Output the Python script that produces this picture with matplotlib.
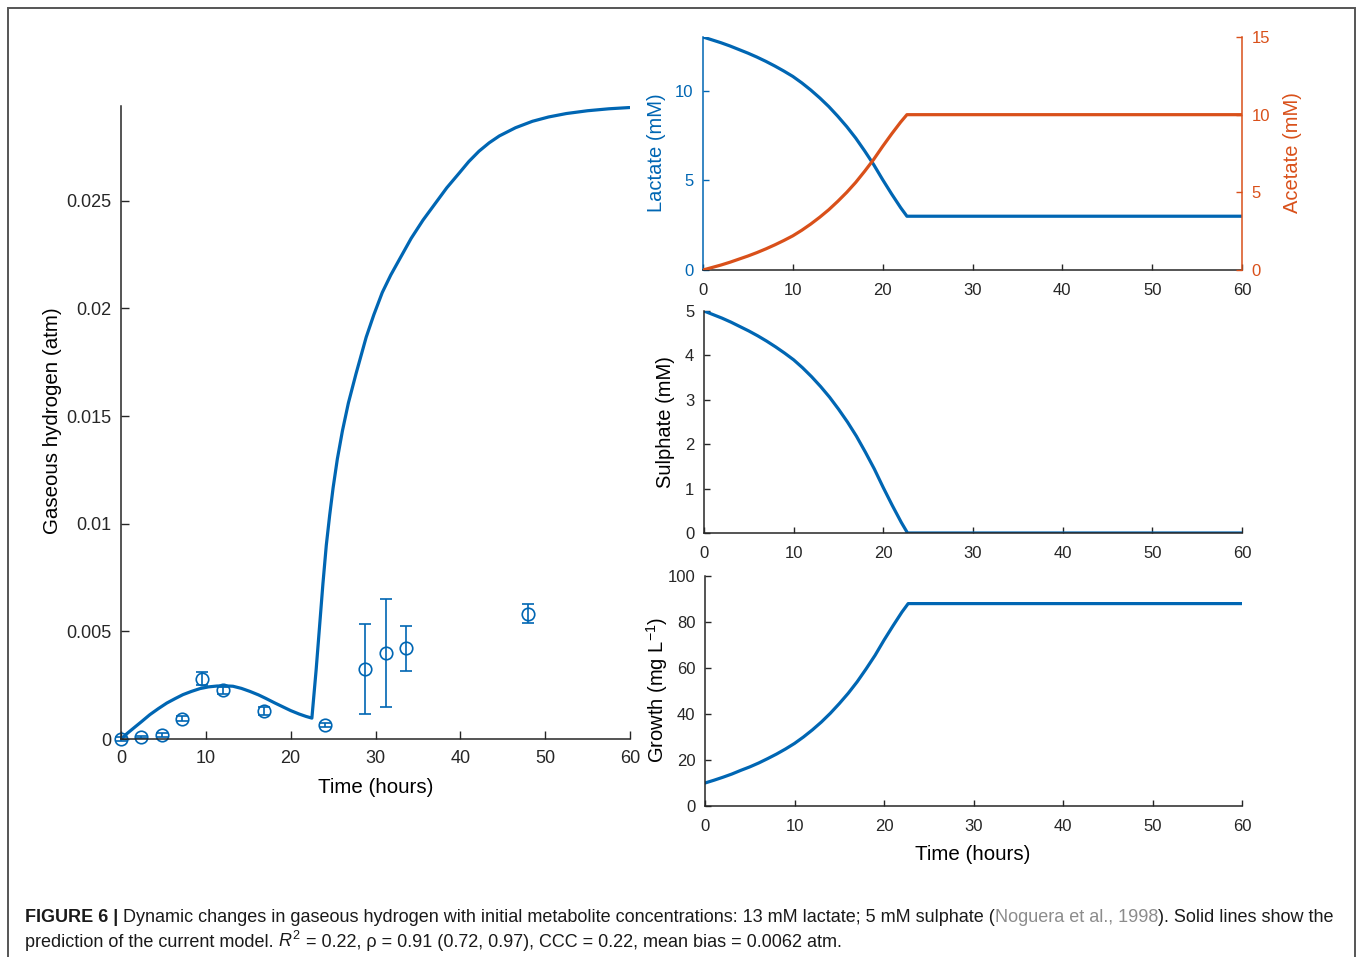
import matplotlib
matplotlib.use('Agg')
import matplotlib.pyplot as plt
from matplotlib import font_manager
from matplotlib.patches import Rectangle

# gaseous hydrogen, model curve (hours, atm)
h2_t = [0, 0.7, 1.5, 2.4, 3.4, 4.4, 5.4, 6.4, 7.3, 8.3, 9.3, 10.3, 11.3, 12.2,
        13.2, 14.2, 15.2, 16.2, 17.1, 18.1, 19.1, 20.0, 21.0, 21.8, 22.5,
        23.0, 23.4, 23.8, 24.2, 24.6, 25.0, 25.5, 26.1, 26.8, 27.7, 28.9,
        29.8, 30.8, 31.8, 32.8, 34.2, 35.6, 37.0, 38.4, 39.9, 41.0, 42.2,
        43.4, 44.6, 46.5, 48.5, 50.4, 52.5, 55.0, 57.5, 60.0]
h2_model = [0.0, 0.00025, 0.00051, 0.0008, 0.00113, 0.00141, 0.00167, 0.00188,
            0.00206, 0.00221, 0.00234, 0.00242, 0.00246, 0.00247, 0.00245,
            0.00235, 0.00221, 0.00205, 0.00188, 0.00168, 0.00149, 0.00132,
            0.00116, 0.00105, 0.00097,
            0.0032, 0.0052, 0.0072, 0.009, 0.0104, 0.01166, 0.013, 0.01431,
            0.0156, 0.01696, 0.01866, 0.0197, 0.02074, 0.02155, 0.02226,
            0.02325, 0.0241, 0.02485, 0.0256, 0.0263, 0.02682, 0.0273, 0.02769,
            0.02801, 0.02839, 0.02869, 0.02889, 0.02905, 0.02918, 0.02927,
            0.02933]

# gaseous hydrogen, measurements with error bars
obs_t = [0, 2.4, 4.8, 7.2, 9.6, 12.0, 16.8, 24.0, 28.8, 31.2, 33.6, 48.0]
obs_h2 = [0.0, 0.0001, 0.00017, 0.00095, 0.0028, 0.00226, 0.00129, 0.00064,
          0.00324, 0.00398, 0.00421, 0.00582]
obs_err = [0.0001, 0.00006, 0.0001, 0.0001, 0.0003, 0.00015, 0.00018, 0.0001,
           0.00208, 0.0025, 0.00106, 0.00043]

# metabolite model curves
model_t = [0, 1, 2, 3, 4, 5, 6, 7, 8, 9, 10, 11, 12, 13, 14, 15, 16, 17, 18,
           19, 20, 21, 22, 22.7, 60]
lactate = [13.0, 12.84, 12.68, 12.5, 12.3, 12.1, 11.88, 11.64, 11.38, 11.1,
           10.8, 10.44, 10.04, 9.6, 9.12, 8.58, 8.0, 7.36, 6.64, 5.88, 5.04,
           4.24, 3.48, 3.0, 3.0]
acetate = [0.0, 0.16, 0.32, 0.5, 0.7, 0.9, 1.12, 1.36, 1.62, 1.9, 2.2, 2.56,
           2.96, 3.4, 3.88, 4.42, 5.0, 5.64, 6.36, 7.12, 7.96, 8.76, 9.52, 10.0,
           10.0]
sulphate = [5.0, 4.92, 4.84, 4.75, 4.65, 4.55, 4.44, 4.32, 4.19, 4.05, 3.9,
            3.72, 3.52, 3.3, 3.06, 2.79, 2.5, 2.18, 1.82, 1.44, 1.02, 0.62, 0.24,
            0.0, 0.0]
growth = [10.0, 11.2, 12.5, 13.9, 15.5, 17.0, 18.7, 20.6, 22.6, 24.8, 27.2,
          30.0, 33.1, 36.5, 40.3, 44.5, 49.0, 54.0, 59.6, 65.5, 72.1, 78.3,
          84.3, 88.0, 88.0]

time_ticks = [0, 10, 20, 30, 40, 50, 60]
h2_ticks = [0, 0.005, 0.01, 0.015, 0.02, 0.025]
h2_ticklabels = ['0', '0.005', '0.01', '0.015', '0.02', '0.025']

BLUE = '#0066B3'
ORANGE = '#D9501A'
DARK = '#262626'

plt.rcParams['font.family'] = ['Liberation Sans', 'DejaVu Sans']
plt.rcParams['mathtext.fontset'] = 'custom'
plt.rcParams['mathtext.rm'] = 'Liberation Sans'
plt.rcParams['mathtext.it'] = 'Liberation Sans:italic'
plt.rcParams['axes.linewidth'] = 1.1
plt.rcParams['xtick.direction'] = 'in'
plt.rcParams['ytick.direction'] = 'in'
plt.rcParams['lines.solid_joinstyle'] = 'round'

W, H = 1360, 957
fig = plt.figure(figsize=(W / 100, H / 100), dpi=100)


def px_axes(x0, x1, ybot, ytop):
    """axes from pixel box (origin top-left)"""
    return fig.add_axes([x0 / W, (H - ybot) / H, (x1 - x0) / W, (ybot - ytop) / H])


def style(ax, tick_len=4.5, size=12):
    for s in ['top', 'right']:
        ax.spines[s].set_visible(False)
    for s in ['left', 'bottom']:
        ax.spines[s].set_color(DARK)
    ax.tick_params(labelsize=size, colors=DARK, length=tick_len, width=1.0)
    ax.tick_params(axis='y', pad=7)
    ax.tick_params(axis='x', pad=9.5)


# left panel: hydrogen
ax = px_axes(121, 630, 739, 106)
ax.plot(h2_t, h2_model, color=BLUE, lw=2.3)
ax.errorbar(obs_t, obs_h2, yerr=obs_err, fmt='o', color=BLUE, mfc='none',
            ms=9, mew=1.2, elinewidth=1.2, capsize=4, capthick=1.2, clip_on=False)
ax.set_xlim(0, 60)
ax.set_ylim(0, 0.0294)
ax.set_xticks(time_ticks)
ax.set_yticks(h2_ticks)
ax.set_yticklabels(h2_ticklabels)
style(ax, 5.5, 13)
ax.tick_params(axis='x', pad=8)
ax.set_ylabel('Gaseous hydrogen (atm)', fontsize=14.8, color='black', va='center')
ax.yaxis.set_label_coords(-0.134, 0.503)
ax.set_xlabel('Time (hours)', fontsize=14.8, color='black', va='center')
ax.xaxis.set_label_coords(0.501, -0.077)

# top right: lactate / acetate
ax1 = px_axes(703, 1242, 270, 37)
ax1.plot(model_t, lactate, color=BLUE, lw=2.3)
ax1.set_xlim(0, 60)
ax1.set_ylim(0, 13)
ax1.set_xticks(time_ticks)
ax1.set_yticks([0, 5, 10])
style(ax1)
ax1.spines['left'].set_color(BLUE)
ax1.tick_params(axis='y', colors=BLUE)
ax1.set_ylabel('Lactate (mM)', fontsize=14.5, color=BLUE, va='center')
ax1.yaxis.set_label_coords(-0.087, 0.502)

ax2 = ax1.twinx()
ax2.plot(model_t, acetate, color=ORANGE, lw=2.3)
ax2.set_ylim(0, 15)
ax2.set_yticks([0, 5, 10, 15])
for s in ['top', 'left', 'bottom']:
    ax2.spines[s].set_visible(False)
ax2.spines['right'].set_color(ORANGE)
ax2.tick_params(labelsize=12, colors=ORANGE, length=4.5, width=1.0, pad=7)
ax2.set_ylabel('Acetate (mM)', fontsize=14.5, color=ORANGE, va='center')
ax2.yaxis.set_label_coords(1.093, 0.502)

# middle right: sulphate
ax3 = px_axes(704, 1242, 533, 311)
ax3.plot(model_t, sulphate, color=BLUE, lw=2.3)
ax3.set_xlim(0, 60)
ax3.set_ylim(0, 5)
ax3.set_xticks(time_ticks)
ax3.set_yticks([0, 1, 2, 3, 4, 5])
style(ax3)
ax3.set_ylabel('Sulphate (mM)', fontsize=14.5, color='black', va='center')
ax3.yaxis.set_label_coords(-0.071, 0.5)

# bottom right: growth
ax4 = px_axes(705, 1242, 806, 576)
ax4.plot(model_t, growth, color=BLUE, lw=2.3)
ax4.set_xlim(0, 60)
ax4.set_ylim(0, 100)
ax4.set_xticks(time_ticks)
ax4.set_yticks([0, 20, 40, 60, 80, 100])
style(ax4)
ax4.set_ylabel('Growth (mg L$^{-1}$)', fontsize=14.5, color='black', va='center')
ax4.yaxis.set_label_coords(-0.089, 0.504)
ax4.set_xlabel('Time (hours)', fontsize=14.8, color='black', va='center')
ax4.xaxis.set_label_coords(0.499, -0.213)

# frame around the figure
fig.patches.append(Rectangle((8 / W, -0.02), (1355 - 8) / W, (H - 8) / H + 0.02,
                             transform=fig.transFigure, fill=False,
                             edgecolor='#555555', lw=1.4))

# caption, built piece by piece
try:
    font_manager.findfont('Liberation Sans Narrow', fallback_to_default=False)
    cap_font = ['Liberation Sans Narrow', 'Liberation Sans']
except ValueError:
    cap_font = ['Liberation Sans']

renderer = fig.canvas.get_renderer()
GRAY = '#8c8c8c'
line1 = [('FIGURE 6 |', dict(weight='bold'), True),
         ('Dynamic changes in gaseous hydrogen with initial metabolite concentrations: '
          '13 mM lactate; 5 mM sulphate (', {}, False),
         ('Noguera et al., 1998', dict(color=GRAY), False),
         ('). Solid lines show the', {}, False)]
line2 = [('prediction of the current model.', {}, True),
         ('$R^2$', {}, True),
         ('= 0.22, \u03c1 = 0.91 (0.72, 0.97), CCC = 0.22, mean bias = 0.0062 atm.', {}, False)]


def space_width(size):
    a = fig.text(0, 0, 'a a', fontsize=size, family=cap_font)
    b = fig.text(0, 0, 'aa', fontsize=size, family=cap_font)
    w = a.get_window_extent(renderer).width - b.get_window_extent(renderer).width
    a.remove()
    b.remove()
    return w


def put_line(pieces, x_px, base_px, size):
    sp = space_width(size)
    x = x_px
    texts = []
    for s, kw, gap in pieces:
        kw = dict(kw)
        kw.setdefault('color', '#1a1a1a')
        t = fig.text(x / W, 1 - base_px / H, s, fontsize=size, va='baseline',
                     ha='left', family=cap_font, **kw)
        x = t.get_window_extent(renderer).x1 + (sp if gap else 0)
        texts.append(t)
    return texts, x


texts, end = put_line(line1, 25, 922, 12)
size = 12 * (1338 - 25) / (end - 25)
for t in texts:
    t.remove()
put_line(line1, 25, 922, size)
put_line(line2, 25, 947, size)

fig.savefig('out.png', dpi=100)
